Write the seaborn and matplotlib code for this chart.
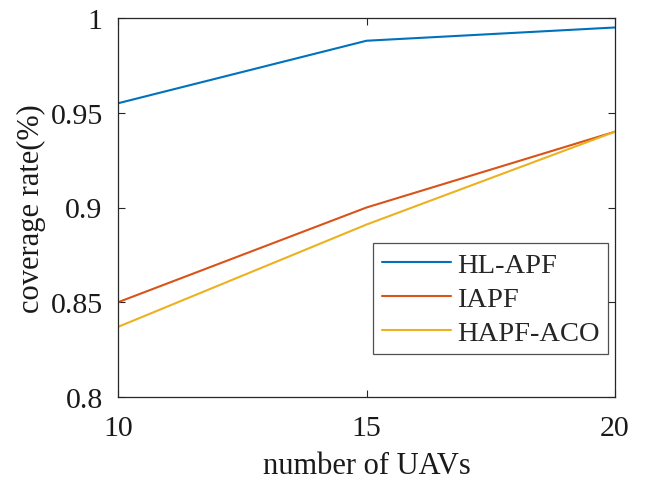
import matplotlib
matplotlib.use("Agg")
import matplotlib.pyplot as plt
import seaborn as sns
import pandas as pd

num_uavs = [10, 15, 20]
hl_apf = [0.955, 0.988, 0.995]
iapf = [0.850, 0.900, 0.940]
hapf_aco = [0.837, 0.891, 0.940]
series_names = ["HL-APF", "IAPF", "HAPF-ACO"]
x_ticks = [10, 15, 20]
y_ticks = [0.8, 0.85, 0.9, 0.95, 1.0]
y_tick_labels = ["0.8", "0.85", "0.9", "0.95", "1"]

sns.set_theme(style="ticks")
plt.rcParams["font.family"] = ["Liberation Serif", "DejaVu Serif"]

df = pd.DataFrame({
    "n": num_uavs * 3,
    "rate": hl_apf + iapf + hapf_aco,
    "method": sum([[name] * len(num_uavs) for name in series_names], []),
})

palette = ["#0072BD", "#D95319", "#EDB120"]

fig = plt.figure(figsize=(6.47, 4.89), dpi=100)
ax = fig.add_axes([118 / 647, 1 - 398 / 489, (615 - 118) / 647, (398 - 19) / 489])

sns.lineplot(data=df, x="n", y="rate", hue="method", palette=palette,
             linewidth=1.5, ax=ax, legend=True)

ax.set_xlim(10, 20)
ax.set_ylim(0.8, 1.0)
ax.set_xticks(x_ticks)
ax.set_xticklabels([str(t) for t in x_ticks])
ax.set_yticks(y_ticks)
ax.set_yticklabels(y_tick_labels)
ax.tick_params(direction="in", length=5, width=0.8, colors="#262626",
               labelsize=21.5, top=True, right=True)
ax.tick_params(axis="x", pad=13)
ax.tick_params(axis="y", pad=11)
for label in ax.get_xticklabels() + ax.get_yticklabels():
    label.set_color("#1a1a1a")
for spine in ax.spines.values():
    spine.set_visible(True)
    spine.set_color("#262626")
    spine.set_linewidth(0.9)

ax.set_xlabel("number of UAVs", fontsize=22, color="#1a1a1a", labelpad=7)
ax.set_ylabel("coverage rate(%)", fontsize=22, color="#1a1a1a", labelpad=3)

leg = ax.legend(title=None, loc="lower right", bbox_to_anchor=(0.986, 0.113),
                fontsize=20.5, frameon=True, fancybox=False, handlelength=2.45,
                borderpad=0.3, labelspacing=0.28, handletextpad=0.2,
                borderaxespad=0)
leg.get_frame().set_edgecolor("#262626")
leg.get_frame().set_linewidth(0.9)

fig.savefig("out.png", dpi=100, facecolor="white")
